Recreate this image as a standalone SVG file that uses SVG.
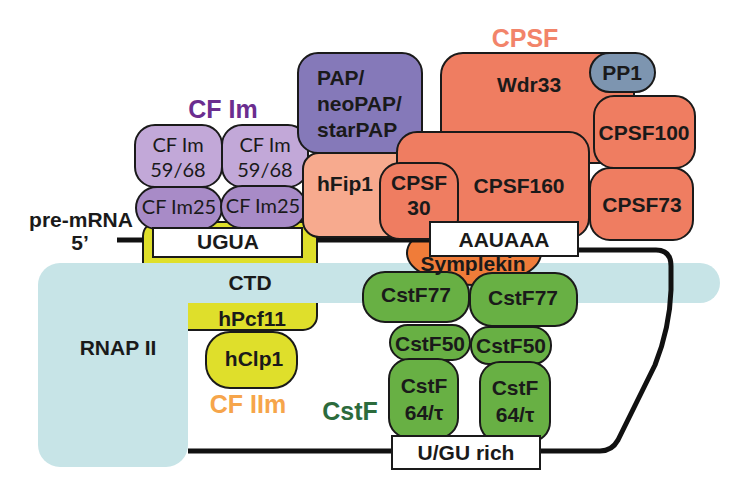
<svg xmlns="http://www.w3.org/2000/svg" width="754" height="493" viewBox="0 0 754 493">
<style>
.s{stroke:#1a1a1a;stroke-width:2}
.b{font-family:"Liberation Sans",Arial,sans-serif;font-weight:bold;font-size:21px;fill:#1a1a1a;text-anchor:middle}
.r{font-family:Lato,"Open Sans",sans-serif;font-size:20px;fill:#1a1a1a;text-anchor:middle}
.t{font-family:"Liberation Sans",Arial,sans-serif;font-weight:bold;font-size:25px;text-anchor:middle}
.st{text-anchor:start}
.cpsf{fill:#ef7d61}
.imA{fill:#c2a8d8}
.imB{fill:#a88bc7}
.g{fill:#68b044}
.y{fill:#dfdf2b}
.cy{fill:#c7e4e7}
.w{fill:#ffffff}
.rna{fill:none;stroke:#111;stroke-width:5;stroke-linejoin:round}
</style>
<rect width="754" height="493" fill="#ffffff"/>

<!-- hPcf11 (yellow frame) -->
<g id="hPcf11">
<rect class="y s" x="143" y="222" width="174" height="108" rx="14"/>
</g>

<!-- RNAP II + CTD -->
<g id="rnap2">
<rect class="cy" x="38" y="263" width="150" height="204" rx="22"/>
<rect class="cy" x="150" y="263" width="570" height="40" rx="20"/>
<text class="b" x="118" y="355">RNAP II</text>
<text class="b" x="250" y="290">CTD</text>
</g>
<text class="b" x="252" y="326">hPcf11</text>

<!-- Symplekin body -->
<g id="symplekin">
<ellipse class="s" fill="#f07c39" cx="474" cy="253" rx="67" ry="32"/>
</g>

<!-- pre-mRNA connectors -->
<g id="connectors">
<path class="rna" d="M117,240 L143,240"/>
<path class="rna" d="M317,240 L436,240"/>
<path class="rna" d="M574,250 L656,250 Q671,250 671,266 L671,290 C670,320 663,345 655,365 L618,440 Q612,451 600,451 L188,451"/>
</g>

<text class="b" x="81" y="227">pre-mRNA</text>
<text class="b" x="80" y="250">5’</text>

<!-- CF Im -->
<g id="cfim">
<text class="t" x="223" y="118" fill="#6b2d8f">CF Im</text>
<rect class="imA s" x="135" y="125" width="87" height="62" rx="20"/>
<rect class="imA s" x="222" y="125" width="86" height="62" rx="20"/>
<text class="r" x="178" y="152">CF Im</text>
<text class="r" x="178" y="177">59/68</text>
<text class="r" x="265" y="152">CF Im</text>
<text class="r" x="265" y="177">59/68</text>
<rect class="imB s" x="136" y="187" width="86" height="42" rx="21"/>
<rect class="imB s" x="221" y="186" width="85" height="42" rx="21"/>
<text class="r" x="179" y="214">CF Im25</text>
<text class="r" x="263" y="213">CF Im25</text>
</g>

<!-- PAP -->
<g id="pap">
<rect class="s" fill="#8579b9" x="298" y="53" width="124" height="100" rx="20"/>
<text class="b st" x="317" y="85">PAP/</text>
<text class="b st" x="317" y="111">neoPAP/</text>
<text class="b st" x="317" y="137">starPAP</text>
</g>

<!-- hFip1 -->
<g id="hfip1">
<rect class="s" fill="#f7aa8e" x="303" y="153" width="120" height="84" rx="16"/>
<text class="b st" x="317" y="191">hFip1</text>
</g>

<!-- CPSF -->
<g id="cpsf">
<text class="t" x="525" y="47" fill="#f2846a">CPSF</text>
<rect class="cpsf s" x="441" y="53" width="193" height="110" rx="22"/>
<text class="b" x="529" y="92">Wdr33</text>
<rect class="s" fill="#7d95b0" x="590" y="53" width="65" height="39" rx="19.5"/>
<text class="b" x="622" y="80">PP1</text>
<rect class="cpsf s" x="594" y="96" width="101" height="72" rx="20"/>
<text class="b" x="644" y="140">CPSF100</text>
<rect class="cpsf s" x="590" y="168" width="103" height="72" rx="20"/>
<text class="b" x="642" y="212">CPSF73</text>
<rect class="cpsf s" x="397" y="132" width="192" height="106" rx="20"/>
<text class="b" x="519" y="193">CPSF160</text>
<rect class="cpsf s" x="380" y="163" width="78" height="76" rx="20"/>
<text class="b" x="419" y="190">CPSF</text>
<text class="b" x="419" y="215">30</text>
</g>

<!-- CstF -->
<g id="cstf">
<text class="t" x="350" y="420" fill="#2c6b3c">CstF</text>
<rect class="g s" x="363" y="272" width="106" height="50" rx="22"/>
<rect class="g s" x="470" y="273" width="107" height="53" rx="22"/>
<text class="b" x="416" y="302">CstF77</text>
<text class="b" x="523" y="305">CstF77</text>
<rect class="g s" x="390" y="325" width="80" height="35" rx="17.5"/>
<rect class="g s" x="471" y="327" width="80" height="37" rx="18"/>
<text class="b" x="430" y="351">CstF50</text>
<text class="b" x="511" y="353">CstF50</text>
<rect class="g s" x="389" y="359" width="69" height="79" rx="20"/>
<rect class="g s" x="480" y="362" width="70" height="80" rx="20"/>
<text class="b" x="424" y="393">CstF</text>
<text class="b" x="424" y="420">64/τ</text>
<text class="b" x="515" y="395">CstF</text>
<text class="b" x="515" y="422">64/τ</text>
</g>
<text class="b" x="473" y="271">Symplekin</text>

<!-- hClp1 / CF IIm -->
<g id="hclp1">
<rect class="y s" x="206" y="332" width="91" height="56" rx="24"/>
<text class="b" x="254" y="366">hClp1</text>
</g>
<text class="t" x="248" y="413" fill="#f6a54b">CF IIm</text>

<!-- sequence elements -->
<g id="ugua">
<rect class="w s" x="153" y="228" width="149" height="29"/>
<text class="b" x="228" y="249">UGUA</text>
</g>
<g id="aauaaa">
<rect class="w s" x="430" y="222" width="148" height="34"/>
<text class="b" x="504" y="247">AAUAAA</text>
</g>
<g id="ugurich">
<rect class="w s" x="392" y="436" width="148" height="33"/>
<text class="b" x="466" y="460">U/GU rich</text>
</g>
</svg>
